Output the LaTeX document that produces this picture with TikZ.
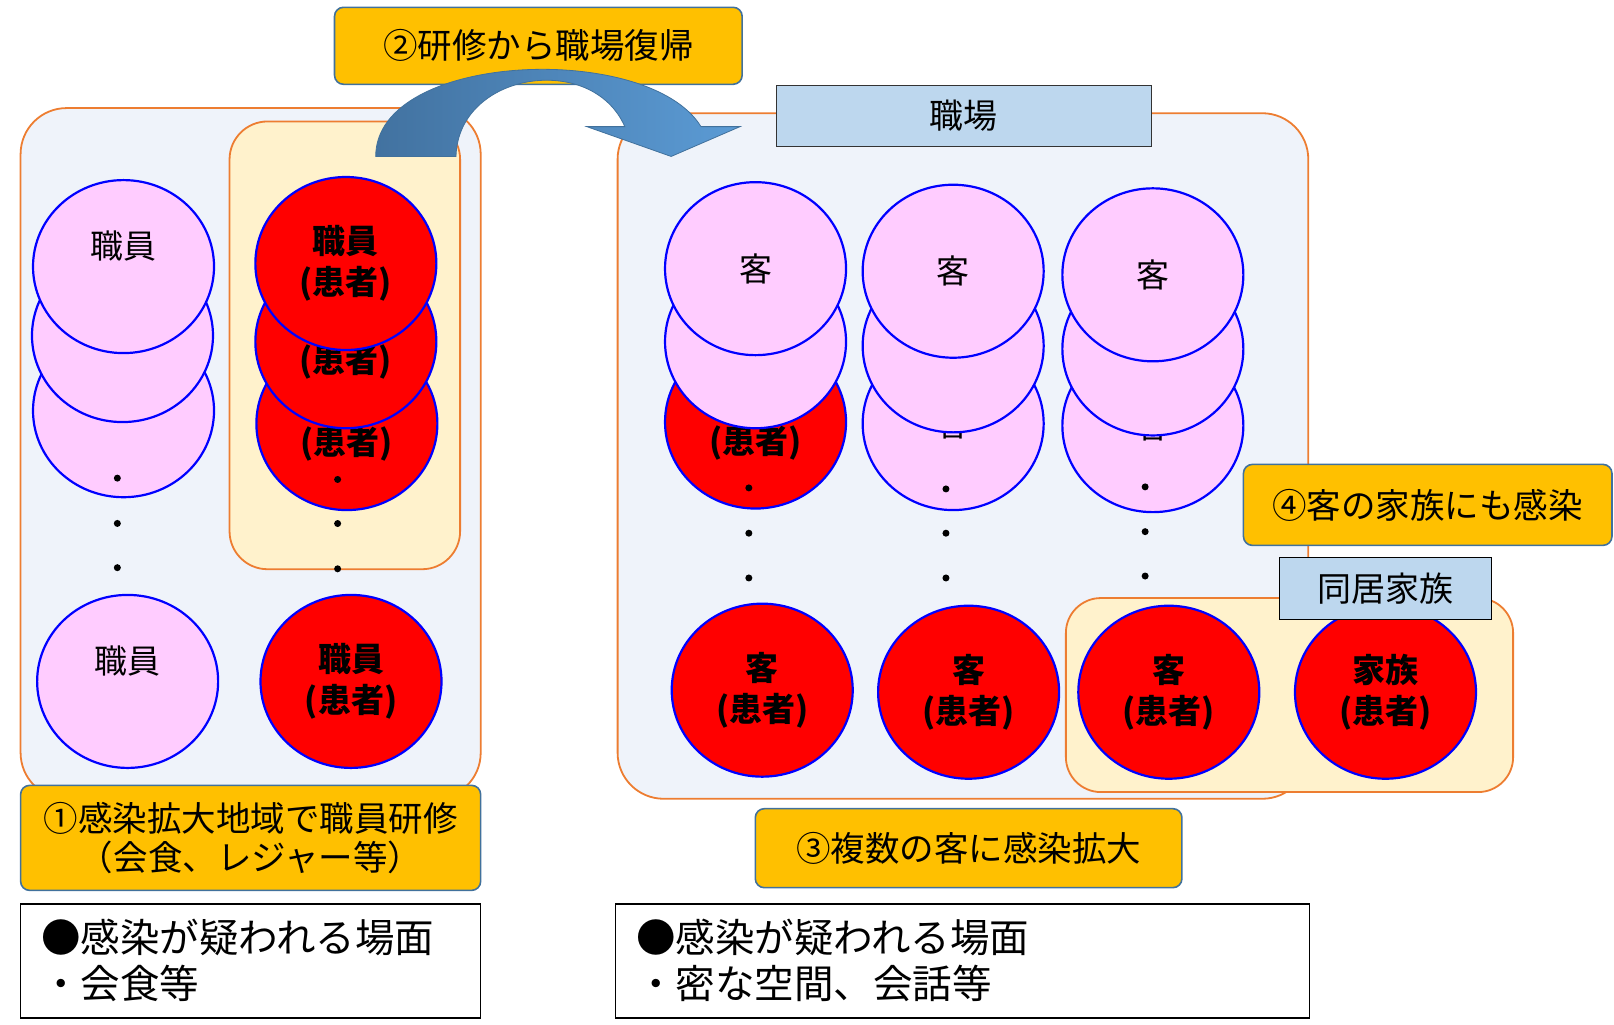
\documentclass[tikz,border=0pt]{standalone}
\usepackage{fontspec}
\setmainfont{Noto Sans CJK JP}
\usepackage{tikz}
\usetikzlibrary{shapes.geometric, positioning}
\usepackage{xcolor}
\definecolor{bgblue}{RGB}{239,243,250}
\definecolor{borange}{RGB}{237,125,49}
\definecolor{lyellow}{RGB}{255,242,204}
\definecolor{gold}{RGB}{255,192,0}
\definecolor{bsteel}{RGB}{65,113,156}
\definecolor{lblue}{RGB}{189,215,238}
\definecolor{pinkf}{RGB}{255,204,255}
\definecolor{cblue}{RGB}{0,0,255}
\definecolor{adark}{RGB}{66,114,160}
\definecolor{alight}{RGB}{91,155,213}
\newcommand{\blank}{\phantom{職員}}

\begin{document}
\begin{tikzpicture}[x=1.0293pt,y=-1.0293pt,
    person/.style={ellipse, draw=cblue, line width=2.2pt, fill=pinkf, minimum width=181pt, minimum height=173pt, inner sep=0pt, align=center, font=\fontsize{33}{41}\selectfont},
    patient/.style={person, fill=red, font=\fontsize{33}{41}\selectfont\bfseries},
    area/.style={draw=borange, fill=bgblue, line width=1.8pt, rounded corners=46pt},
    group/.style={draw=borange, fill=lyellow, line width=1.8pt, rounded corners=38pt},
    stepbox/.style={draw=bsteel, fill=gold, line width=1.6pt, rounded corners=9pt, align=center, font=\fontsize{34.5}{39}\selectfont},
    tagbox/.style={draw=black!80, fill=lblue, line width=1.2pt, font=\fontsize{34}{39}\selectfont},
    notebox/.style={draw=black, fill=white, line width=1.4pt, align=left, inner xsep=20.6pt, minimum height=114pt, font=\fontsize{39.5}{46}\selectfont},
    dot/.style={circle, fill=black, inner sep=0pt, minimum size=7pt}]
    \useasboundingbox (0,0) rectangle (1568,995);

    \draw[area] (20,105) rectangle (467,776);
    \draw[group] (223,118) rectangle (447,553);
    \node[person] (s1c) at (120,399) {};
    \node[person] (s1b) at (119,326) {};
    \node[person] (s1a) at (120,259) {職員\\\blank};
    \node[patient] (p1c) at (337,411.5) {\blank\\(患者)};
    \node[patient] (p1b) at (336,332) {\blank\\(患者)};
    \node[patient] (p1a) at (336,256) {職員\\(患者)};
    \node[dot] (d1a) at (114,464.5) {};
    \node[dot] (d1b) at (114,508.5) {};
    \node[dot] (d1c) at (114,551.5) {};
    \node[dot] (d2a) at (328,465.8) {};
    \node[dot] (d2b) at (328,508.6) {};
    \node[dot] (d2c) at (328,552.6) {};
    \node[person] (s1n) at (124,662) {職員\\\blank};
    \node[patient] (p1n) at (341,662) {職員\\(患者)};

    \draw[area] (600,110) rectangle (1271,776);
    \node[tagbox, minimum width=375.7pt, minimum height=60.7pt] (work) at (936.5,112.5) {職場};
    \node[patient] (g1c) at (734,410) {\blank\\(患者)};
    \node[person] (g1b) at (734,332) {};
    \node[person] (g1a) at (734,261) {客};
    \node[person] (g2c) at (926,411.5) {客};
    \node[person] (g2b) at (926,336) {};
    \node[person] (g2a) at (926,263.5) {客};
    \node[person] (g3c) at (1120,413.5) {客};
    \node[person] (g3b) at (1120,339) {};
    \node[person] (g3a) at (1120,267) {客};
    \node[dot] (e1a) at (727.5,474) {};
    \node[dot] (e1b) at (727.5,518) {};
    \node[dot] (e1c) at (727.5,561.5) {};
    \node[dot] (e2a) at (919,475) {};
    \node[dot] (e2b) at (919,518) {};
    \node[dot] (e2c) at (919,561.5) {};
    \node[dot] (e3a) at (1112.5,473) {};
    \node[dot] (e3b) at (1112.5,516.5) {};
    \node[dot] (e3c) at (1112.5,559.6) {};
    \node[patient] (g1n) at (740.5,670.5) {客\\(患者)};
    \node[patient] (g2n) at (941,672.5) {客\\(患者)};
    \draw[group, rounded corners=35pt] (1035.5,581) rectangle (1470,769.5);
    \node[patient] (g3n) at (1135.5,672.5) {客\\(患者)};
    \node[patient] (fam) at (1346,672.5) {家族\\(患者)};
    \node[tagbox, draw=black, minimum width=212pt, minimum height=62pt] (home) at (1346,571.5) {同居家族};

    \node[stepbox, minimum width=368.5pt, minimum height=81pt] (step4) at (1387,490.5) {④客の家族にも感染};
    \node[stepbox, minimum width=426.6pt, minimum height=79pt] (step3) at (941,824) {③複数の客に感染拡大};
    \node[stepbox, minimum width=407.6pt, minimum height=77pt] (step2) at (523,44.5) {②研修から職場復帰};
    \node[stepbox, minimum width=460pt, minimum height=105pt] (step1) at (243.5,814) {①感染拡大地域で職員研修\\（会食、レジャー等）};
    \draw[draw=bsteel, line width=0.8pt, left color=adark, right color=alight]
        (365,152) -- (443,152) .. controls (445,70) and (575,50) .. (607,123)
        -- (570,123) -- (652,152) -- (719,123) -- (681,123)
        .. controls (630,40) and (365,50) .. (365,152) -- cycle;

    \node[notebox, text width=418.8pt] (note1) at (243.5,933.5) {●感染が疑われる場面\\・会食等};
    \node[notebox, text width=652.5pt] (note2) at (935,933.5) {●感染が疑われる場面\\・密な空間、会話等};
\end{tikzpicture}
\end{document}
